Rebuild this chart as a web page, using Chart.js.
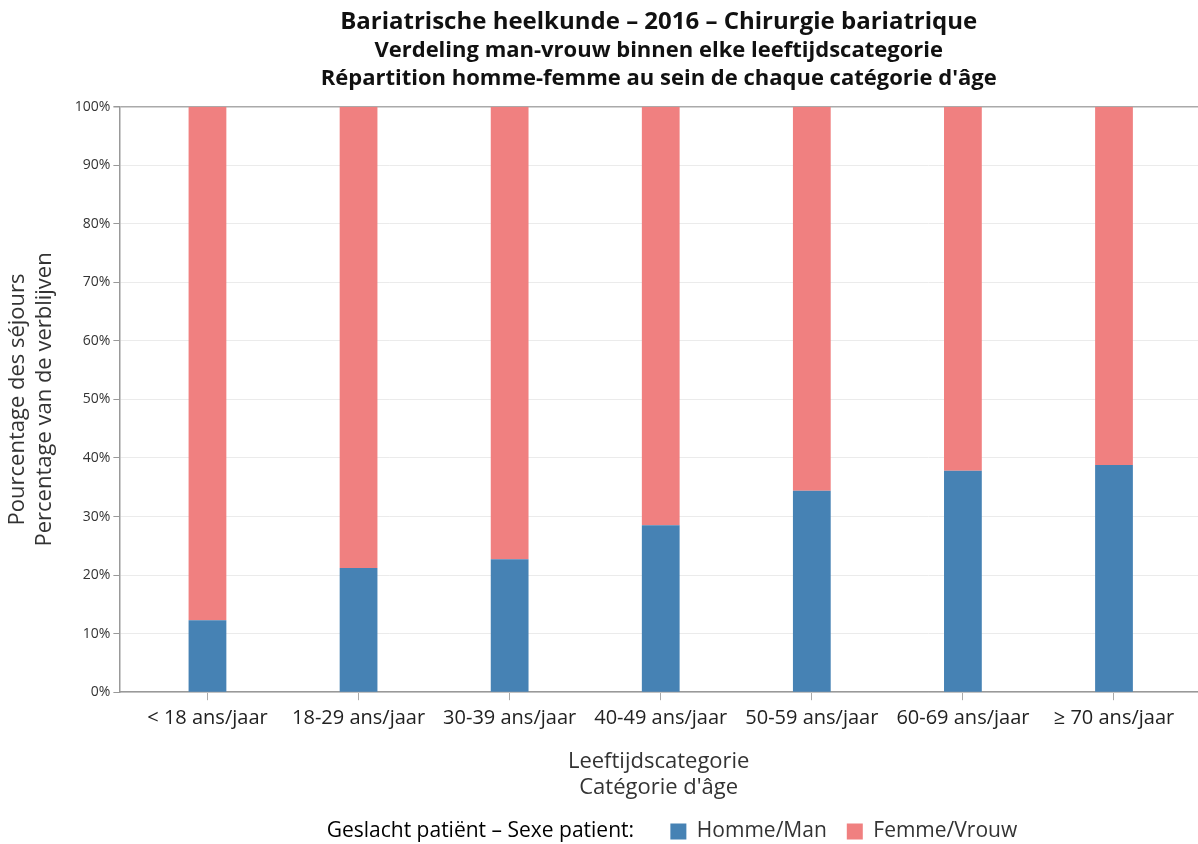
<!DOCTYPE html>
<html lang="nl">
<head>
  <meta charset="UTF-8">
  <title>Bariatrische heelkunde – 2016</title>
  <script src="https://cdn.jsdelivr.net/npm/chart.js"></script>
  <style>
    body {
      background-color: white;
      margin: 0;
      padding: 0;
    }

    #wrap {
      width: 1198px;
      height: 844px;
    }
  </style>
</head>
<body>

  <div id="wrap">
    <canvas id="sexChart" width="1198" height="844"></canvas>
  </div>

  <script>
    // categorieën en waarden (in %)
    const categories = ['< 18 ans/jaar', '18-29 ans/jaar', '30-39 ans/jaar', '40-49 ans/jaar',
      '50-59 ans/jaar', '60-69 ans/jaar', '≥ 70 ans/jaar'];
    const hommeMan = [12.3, 21.2, 22.7, 28.5, 34.4, 37.8, 38.8];
    const femmeVrouw = hommeMan.map(v => 100 - v);
    const yTicks = [0, 10, 20, 30, 40, 50, 60, 70, 80, 90, 100];

    const txt = '#333333';
    const fam = "'Open Sans', sans-serif";

    const toPoints = arr => arr.map((v, i) => ({ x: i, y: v }));

    const ctx = document.getElementById('sexChart').getContext('2d');
    const chart = new Chart(ctx, {
      type: 'bar',
      data: {
        datasets: [{
          label: 'Homme/Man',
          data: toPoints(hommeMan),
          backgroundColor: '#4682b4',
          barPercentage: 0.25,
          categoryPercentage: 1
        }, {
          label: 'Femme/Vrouw',
          data: toPoints(femmeVrouw),
          backgroundColor: '#f08080',
          barPercentage: 0.25,
          categoryPercentage: 1
        }]
      },
      options: {
        responsive: false,
        animation: false,
        layout: { padding: { left: 5, right: 0, top: 0, bottom: -8 } },
        plugins: {
          title: {
            display: true,
            fullSize: false,
            text: 'Bariatrische heelkunde – 2016 – Chirurgie bariatrique',
            color: '#111',
            font: { family: fam, size: 24, weight: 'bold', lineHeight: 1.2 },
            padding: { top: 8, bottom: 0 }
          },
          subtitle: {
            display: true,
            fullSize: false,
            text: ['Verdeling man-vrouw binnen elke leeftijdscategorie',
              'Répartition homme-femme au sein de chaque catégorie d\'âge'],
            color: '#111',
            font: { family: fam, size: 22, weight: 'bold', lineHeight: 1.27 },
            padding: { top: 0, bottom: 14 }
          },
          legend: {
            position: 'bottom',
            fullSize: false,
            labels: {
              color: txt,
              font: { family: fam, size: 21 },
              boxWidth: 16,
              boxHeight: 16,
              padding: 20,
              generateLabels: function (c) {
                const items = Chart.defaults.plugins.legend.labels.generateLabels(c);
                items.forEach(it => { it.lineWidth = 0; });
                return [{
                  text: 'Geslacht patiënt – Sexe patient:   ',
                  fillStyle: 'rgba(0,0,0,0)',
                  strokeStyle: 'rgba(0,0,0,0)',
                  lineWidth: 0,
                  hidden: false
                }].concat(items);
              }
            }
          },
          tooltip: { enabled: false }
        },
        scales: {
          x: {
            type: 'linear',
            stacked: true,
            min: -0.583,
            max: 6.556,
            offset: false,
            grid: {
              offset: false,
              drawOnChartArea: false,
              drawTicks: true,
              tickLength: 8,
              tickColor: '#aaaaaa'
            },
            border: { color: '#999999', width: 1.5 },
            ticks: {
              stepSize: 1,
              includeBounds: false,
              autoSkip: false,
              maxRotation: 0,
              color: '#222',
              font: { family: fam, size: 20 },
              padding: 6,
              callback: v => Number.isInteger(v) ? categories[v] : ''
            },
            title: {
              display: true,
              text: ['Leeftijdscategorie', 'Catégorie d\'âge'],
              color: txt,
              font: { family: fam, size: 22, lineHeight: 1.2 },
              padding: { top: 12, bottom: 0 }
            }
          },
          y: {
            stacked: true,
            min: 0,
            max: 100,
            afterBuildTicks: axis => { axis.ticks = yTicks.map(v => ({ value: v })); },
            grid: {
              color: c => c.tick && c.tick.value === 100 ? '#aaaaaa' : '#ebebeb',
              lineWidth: c => c.tick && c.tick.value === 100 ? 1.5 : 1,
              tickLength: 6,
              tickColor: '#999999'
            },
            border: { color: '#999999', width: 1.5 },
            ticks: {
              color: txt,
              font: { family: fam, size: 14 },
              padding: 3,
              callback: v => v + '%'
            },
            title: {
              display: true,
              text: ['Pourcentage des séjours', 'Percentage van de verblijven'],
              color: txt,
              font: { family: fam, size: 22, lineHeight: 1.2 },
              padding: { top: 0, bottom: 14 }
            }
          }
        }
      }
    });
  </script>

</body>
</html>
